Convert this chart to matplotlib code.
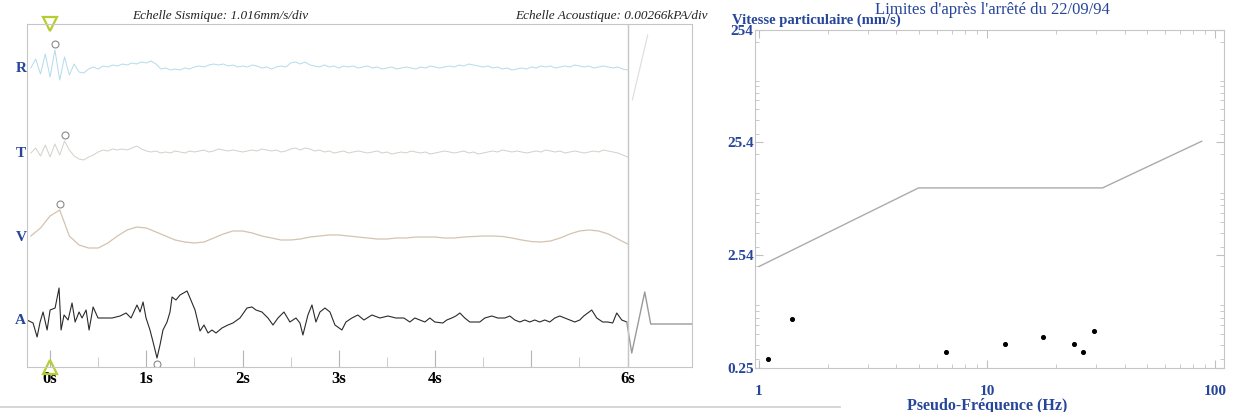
import numpy as np
import matplotlib
matplotlib.use('Agg')
import matplotlib.pyplot as plt
from matplotlib import transforms
from matplotlib.lines import Line2D

# ---- seismogram traces (amplitude in tenths of channel spacing) ----
dt_fast = 0.05
r_t0 = -0.20
r_vals = [0.0, 0.9, -0.6, 1.4, -0.9, 1.8, -1.2, 1.1, -0.7, 0.4,
          -0.4, -0.5, -0.1, 0.1, -0.1, 0.2, 0.1, 0.3, 0.2, 0.4,
          0.3, 0.5, 0.4, 0.6, 0.5, 0.7, 0.4, -0.1, 0.0, -0.2,
          -0.1, -0.2, 0.0, -0.1, 0.1, 0.2, 0.1, 0.3, 0.4, 0.3,
          0.4, 0.2, 0.3, 0.1, 0.2, 0.1, 0.3, 0.2, 0.0, 0.1,
          -0.1, 0.1, 0.2, 0.1, 0.5, 0.6, 0.4, 0.6, 0.3, 0.2,
          0.1, 0.3, 0.1, 0.2, 0.0, 0.2, 0.1, 0.2, 0.0, 0.1,
          0.2, 0.0, 0.1, -0.1, 0.0, 0.1, -0.1, 0.0, 0.1, 0.0,
          -0.1, 0.1, 0.0, 0.2, 0.1, 0.0, 0.1, 0.2, 0.1, 0.3,
          0.2, 0.4, 0.3, 0.2, 0.1, 0.2, 0.0, 0.1, -0.1, 0.0,
          -0.2, -0.1, 0.0, -0.1, 0.1, 0.0, 0.2, 0.1, 0.2, 0.0,
          0.1, 0.2, 0.1, 0.3, 0.2, 0.1, 0.2, 0.0, 0.1, 0.2,
          0.1, 0.0, 0.1, -0.1, -0.2]
t_t0 = -0.20
t_vals = [0.0, 0.5, -0.3, 0.8, -0.4, 0.9, -0.2, 1.2, 0.3, -0.3,
          -0.6, -0.7, -0.4, -0.2, 0.1, 0.3, 0.2, 0.4, 0.3, 0.4,
          0.3, 0.5, 0.7, 0.4, 0.2, 0.1, 0.2, 0.0, 0.1, 0.0,
          0.2, 0.1, 0.0, 0.2, 0.1, 0.2, 0.3, 0.1, 0.2, 0.4,
          0.3, 0.2, 0.3, 0.2, 0.1, 0.2, 0.3, 0.2, 0.4, 0.3,
          0.2, 0.3, 0.1, 0.2, 0.4, 0.5, 0.3, 0.5, 0.4, 0.2,
          0.3, 0.1, 0.2, 0.0, 0.1, 0.2, 0.0, 0.1, 0.2, 0.1,
          0.0, 0.1, 0.2, 0.0, 0.1, -0.1, 0.0, 0.1, 0.0, 0.2,
          0.1, 0.0, 0.1, -0.1, 0.0, 0.1, 0.2, 0.1, 0.0, 0.1,
          0.2, 0.0, 0.1, -0.1, 0.0, 0.1, 0.2, 0.1, 0.3, 0.2,
          0.1, 0.2, 0.1, 0.0, 0.1, 0.2, 0.1, 0.3, 0.2, 0.1,
          0.2, 0.0, 0.1, 0.2, 0.1, 0.0, 0.1, 0.2, 0.1, 0.3,
          0.2, 0.1, 0.0, -0.2, -0.4]
dt_slow = 0.1
v_t0 = -0.20
v_vals = [0.1, 0.9, 2.1, 2.7, 0.1, -0.8, -1.1, -1.1, -0.6, 0.1,
          0.7, 1.0, 0.9, 0.5, 0.1, -0.3, -0.5, -0.6, -0.5, -0.1,
          0.3, 0.6, 0.6, 0.4, 0.1, -0.1, -0.3, -0.3, -0.2, 0.0,
          0.1, 0.2, 0.2, 0.1, 0.0, -0.1, -0.2, -0.2, -0.1, -0.1,
          0.0, 0.0, 0.0, -0.1, -0.1, 0.0, 0.05, 0.1, 0.1, 0.05,
          -0.1, -0.3, -0.45, -0.5, -0.4, -0.1, 0.3, 0.6, 0.7, 0.6,
          0.3, -0.2, -0.7]
a_times = [-0.239, -0.177, -0.135, -0.104, -0.073, -0.031, 0.0, 0.052, 0.093, 0.114,
           0.145, 0.187, 0.228, 0.26, 0.301, 0.332, 0.374, 0.405, 0.447, 0.498,
           0.571, 0.644, 0.727, 0.789, 0.841, 0.903, 0.935, 0.966, 0.997, 1.038,
           1.07, 1.111, 1.142, 1.173, 1.215, 1.246, 1.267, 1.308, 1.35, 1.423,
           1.454, 1.506, 1.558, 1.599, 1.641, 1.682, 1.724, 1.786, 1.848, 1.9,
           1.973, 2.046, 2.098, 2.139, 2.201, 2.264, 2.316, 2.368, 2.43, 2.492,
           2.555, 2.596, 2.627, 2.679, 2.721, 2.762, 2.804, 2.856, 2.908, 2.96,
           3.032, 3.074, 3.136, 3.198, 3.261, 3.344, 3.427, 3.51, 3.593, 3.676,
           3.738, 3.79, 3.842, 3.894, 3.946, 3.998, 4.081, 4.122, 4.174, 4.216,
           4.258, 4.309, 4.361, 4.465, 4.517, 4.59, 4.652, 4.725, 4.777, 4.829,
           4.881, 4.933, 4.984, 5.036, 5.088, 5.14, 5.192, 5.244, 5.296, 5.348,
           5.4, 5.452, 5.504, 5.545, 5.587, 5.628, 5.68, 5.742, 5.794, 5.846,
           5.888, 5.94, 5.992]
a_vals = [0.0, -0.3, -1.7, -0.2, 0.8, -1.0, 1.0, 1.2, 3.2, -1.0,
          0.5, 0.0, 1.7, -0.2, 0.8, 0.2, 1.0, -1.0, 1.3, 0.2,
          0.2, 0.2, 0.4, 0.7, 0.2, 1.5, 0.8, 1.8, 0.2, -1.0,
          -2.2, -3.8, -2.5, -1.0, -0.2, 0.8, 2.3, 2.0, 2.5, 2.9,
          2.2, 1.0, -1.1, -0.5, -1.3, -1.0, -1.3, -0.8, -0.5, -0.3,
          0.2, 1.2, 1.3, 1.0, 0.8, 0.2, -0.5, 0.2, 0.8, -0.2,
          0.2, -0.3, -1.5, 0.5, 1.5, -0.2, 0.8, 1.2, 0.8, -0.5,
          -1.0, -0.2, 0.2, 0.5, 0.0, 0.5, 0.2, 0.4, 0.2, 0.2,
          -0.2, 0.2, 0.0, -0.2, 0.2, -0.2, -0.3, 0.0, 0.2, 0.4,
          0.7, 0.2, -0.2, -0.2, 0.2, 0.4, 0.2, 0.2, 0.4, 0.0,
          -0.2, 0.0, -0.2, 0.0, -0.2, 0.0, -0.2, 0.2, 0.4, 0.2,
          0.0, -0.2, 0.0, 0.4, 0.7, 1.0, 0.2, -0.2, -0.2, -0.3,
          0.7, 0.0, -0.2]
# acoustic window (after 6 s)
a_box_times = [5.992, 6.044, 6.179, 6.241, 6.667]
a_box_vals = [-0.2, -3.3, 2.8, -0.4, -0.4]
r_box_times = [6.05, 6.21]
r_box_vals = [-3.2, 3.3]

channels = ['R', 'T', 'V', 'A']
time_ticks = [0, 1, 2, 3, 4, 5, 6]
time_half_ticks = [0.5, 1.5, 2.5, 3.5, 4.5, 5.5]
time_labels = ['0s', '1s', '2s', '3s', '4s', '', '6s']

# ---- spectrum: peak particle velocity vs pseudo-frequency ----
freq_limit = [1, 5, 32, 87]
vel_limit = [2.0, 10, 10, 26]
peak_freq = [1.09, 1.39, 6.6, 12.0, 17.6, 23.9, 26.3, 29.3]
peak_vel = [0.30, 0.68, 0.35, 0.41, 0.47, 0.41, 0.35, 0.53]
vel_ticks = [0.25, 2.54, 25.4, 254]
vel_labels = ['0.25', '2.54', '25.4', '254']
freq_ticks = [1, 10, 100]
freq_labels = ['1', '10', '100']

SERIF = 'Liberation Serif'
BLUE = '#27469a'
FRAME = '#c6c6c6'

fig = plt.figure(figsize=(12.35, 4.12), dpi=100)
W, H = 1235, 412

def box(l, t, r, b):
    return [l / W, 1 - b / H, (r - l) / W, (b - t) / H]

# ----- seismogram -----
ax = fig.add_axes(box(27, 24, 692, 367))
base = {'R': 25.2, 'T': 16.7, 'V': 8.3, 'A': 0.0}
colors = {'R': '#b2dcea', 'T': '#d0d2c8', 'V': '#d3c3b0', 'A': '#2a2a2a'}
widths = {'R': 0.7, 'T': 0.7, 'V': 0.9, 'A': 0.8}

r_t = r_t0 + dt_fast * np.arange(len(r_vals))
t_t = t_t0 + dt_fast * np.arange(len(t_vals))
v_t = v_t0 + dt_slow * np.arange(len(v_vals))
traces = {'R': (r_t, np.array(r_vals)), 'T': (t_t, np.array(t_vals)),
          'V': (v_t, np.array(v_vals)), 'A': (np.array(a_times), np.array(a_vals))}

for ch in channels:
    tt, vv = traces[ch]
    ax.plot(tt, vv + base[ch], color=colors[ch], lw=widths[ch])
    # peak marker
    k = np.argmax(np.abs(vv))
    ax.plot(tt[k], vv[k] + np.sign(vv[k]) * 0.6 + base[ch], 'o', ms=5,
            mfc='none', mec='#8a8a8a', mew=0.8)

ax.plot(a_box_times, np.array(a_box_vals) + base['A'], color='#9a9a9a', lw=1.0)
ax.plot(r_box_times, np.array(r_box_vals) + base['R'], color='#dcdcdc', lw=0.8)

ax.axvline(6.0, color=FRAME, lw=1.0)
ax.set_xlim(-0.24, 6.67)
ax.set_ylim(-4.7, 29.6)
ax.set_yticks([])
for s in ax.spines.values():
    s.set_color(FRAME)
ax.set_xticks(time_ticks)
ax.set_xticks(time_half_ticks, minor=True)
ax.set_xticklabels(time_labels, fontfamily=SERIF, fontweight='bold', fontsize=12)
ax.tick_params(axis='x', which='major', direction='in', length=12, color='#b5b5b5', pad=3)
ax.tick_params(axis='x', which='minor', direction='in', length=7, color='#c5c5c5')

lab_tr = transforms.blended_transform_factory(ax.transAxes, ax.transData)
for ch in channels:
    ax.text(-0.001, base[ch], ch, transform=lab_tr, ha='right', va='center',
            color=BLUE, fontfamily=SERIF, fontweight='bold', fontsize=11)

trig_tr = transforms.blended_transform_factory(ax.transData, ax.transAxes)
ax.plot([0], [1.0], marker='v', ms=10, mfc='none', mec='#b8cc30', mew=1.6,
        transform=trig_tr, clip_on=False)
ax.plot([0], [0.0], marker='^', ms=10, mfc='none', mec='#b8cc30', mew=1.6,
        transform=trig_tr, clip_on=False)

fig.text(220 / W, 1 - 16 / H, 'Echelle Sismique: 1.016mm/s/div', ha='center', va='center',
         fontfamily=SERIF, fontstyle='italic', fontsize=9.5, color='#222222')
fig.text(611 / W, 1 - 16 / H, 'Echelle Acoustique: 0.00266kPA/div', ha='center', va='center',
         fontfamily=SERIF, fontstyle='italic', fontsize=9.5, color='#222222')

# ----- spectrum -----
bx = fig.add_axes(box(755, 30, 1224, 368))
bx.plot(freq_limit, vel_limit, color='#ababab', lw=1.0)
bx.scatter(peak_freq, peak_vel, s=7, color='black', zorder=3)
bx.set_xscale('log')
bx.set_yscale('log')
bx.set_xlim(0.96, 109)
bx.set_ylim(0.25, 254)
bx.set_xticks(freq_ticks)
bx.set_xticklabels(freq_labels)
bx.set_yticks(vel_ticks)
bx.set_yticklabels(vel_labels)
bx.yaxis.set_minor_formatter(matplotlib.ticker.NullFormatter())
bx.xaxis.set_minor_formatter(matplotlib.ticker.NullFormatter())
for s in bx.spines.values():
    s.set_color(FRAME)
bx.tick_params(which='both', direction='in', top=True, right=True, color='#c0c0c0')
bx.tick_params(which='major', length=6)
bx.tick_params(which='minor', length=3)
bx.tick_params(axis='x', pad=12)
bx.tick_params(axis='y', pad=1)
for lbl in bx.get_xticklabels() + bx.get_yticklabels():
    lbl.set_fontfamily(SERIF)
    lbl.set_fontweight('bold')
    lbl.set_fontsize(11)
    lbl.set_color(BLUE)

fig.text(987 / W, 1 - 406 / H, 'Pseudo-Fréquence (Hz)', ha='center', va='center',
         fontfamily=SERIF, fontweight='bold', fontsize=11.5, color=BLUE)
fig.text(732 / W, 1 - 20 / H, 'Vitesse particulaire (mm/s)', ha='left', va='center',
         fontfamily=SERIF, fontweight='bold', fontsize=10.5, color=BLUE)
fig.text(992 / W, 1 - 10 / H, "Limites d'après l'arrêté du 22/09/94", ha='center', va='center',
         fontfamily=SERIF, fontsize=12, color=BLUE)

fig.add_artist(Line2D([0, 840 / W], [1 - 407 / H, 1 - 407 / H], color='#d2d2d2', lw=1.3))

fig.savefig('out.png', dpi=100)
